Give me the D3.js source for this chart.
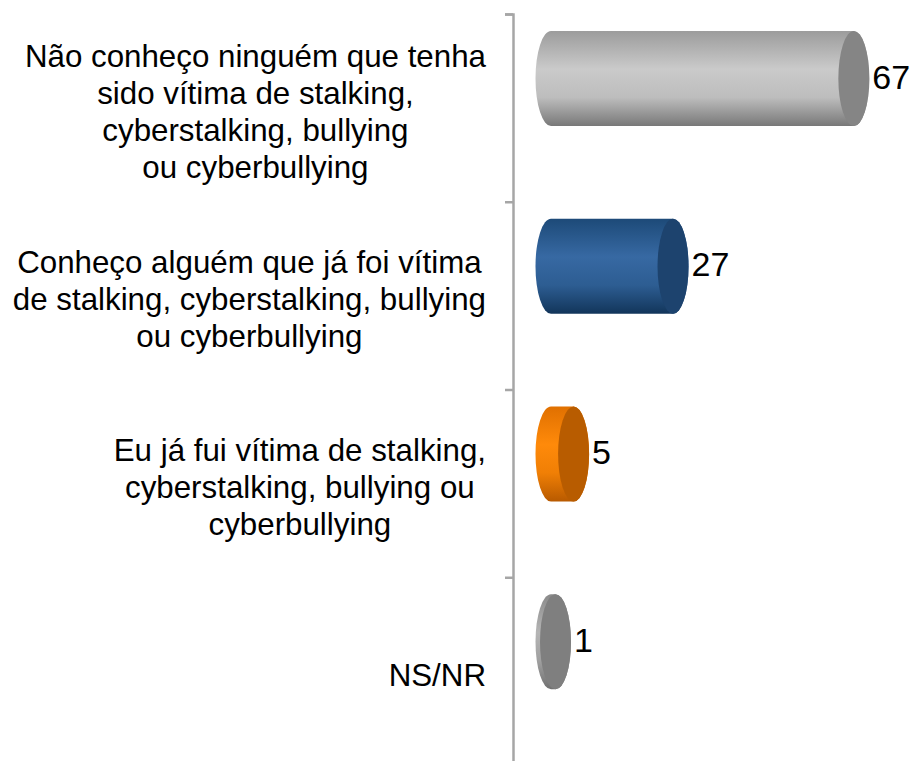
<!DOCTYPE html>
<html>
<head>
<meta charset="utf-8">
<script src="https://cdn.jsdelivr.net/npm/d3@7"></script>
<style>
  body { margin: 0; background: #fff; }
  svg { display: block; font-family: "Liberation Sans", Arial, sans-serif; }
</style>
</head>
<body>
<svg id="chart" width="913" height="761"></svg>
<script>
// data
const categories = [
  "Não conheço ninguém que tenha|sido vítima de stalking,|cyberstalking, bullying|ou cyberbullying",
  "Conheço alguém que já foi vítima|de stalking, cyberstalking, bullying|ou cyberbullying",
  "Eu já fui vítima de stalking,|cyberstalking, bullying ou|cyberbullying",
  "NS/NR"
]
const values = [67, 27, 5, 1]
const bodyColors = [
  ["#9c9c9c", "#cacaca", "#bdbdbd", "#787878"],
  ["#1d4a78", "#3769a3", "#2d5d92", "#12355a"],
  ["#e07000", "#ff8a0a", "#f07f05", "#b85a00"],
  ["#8a8a8a", "#b5b5b5", "#a0a0a0", "#707070"]
]
const capColors = ["#858585", "#1d436e", "#b85c00", "#7f7f7f"]

const svg = d3.select("#chart")

const x = d3.scaleLinear().domain([0, 100]).range([551, 551 + 452])
const y = d3.scaleBand().domain(categories).range([14, 765])
const axisScale = d3.scaleLinear().domain([0, categories.length]).range([14, 765])

const rx = 15.5, ry = 47.5

// gradients
const defs = svg.append("defs")
bodyColors.forEach(function(c, i) {
  const g = defs.append("linearGradient")
    .attr("id", "grad" + i)
    .attr("x1", 0).attr("y1", 0).attr("x2", 0).attr("y2", 1)
  g.append("stop").attr("offset", "0%").attr("stop-color", c[0])
  g.append("stop").attr("offset", "40%").attr("stop-color", c[1])
  g.append("stop").attr("offset", "70%").attr("stop-color", c[2])
  g.append("stop").attr("offset", "100%").attr("stop-color", c[3])
})

// axis
svg.append("g")
  .attr("class", "axis")
  .attr("transform", "translate(513,0)")
  .call(d3.axisLeft(axisScale).tickValues(d3.range(categories.length + 1)).tickSize(8).tickFormat(""))
  .call(function(g) {
    g.selectAll("path, line").attr("stroke", "#a6a6a6").attr("stroke-width", 2.5)
  })

// cylinders
const barCy = function(c) { return y(c) + 64.5 }

const bars = svg.append("g").selectAll("g")
  .data(categories)
  .join("g")

bars.append("path")
  .attr("d", function(c, i) {
    const x0 = x(0), x1 = x(values[i]), cy = barCy(c)
    return "M" + x0 + "," + (cy - ry) +
      "L" + x1 + "," + (cy - ry) +
      "A" + rx + "," + ry + " 0 0 1 " + x1 + "," + (cy + ry) +
      "L" + x0 + "," + (cy + ry) +
      "A" + rx + "," + ry + " 0 0 1 " + x0 + "," + (cy - ry) + "Z"
  })
  .attr("fill", function(c, i) { return "url(#grad" + i + ")" })

bars.append("ellipse")
  .attr("cx", function(c, i) { return x(values[i]) })
  .attr("cy", barCy)
  .attr("rx", rx)
  .attr("ry", ry)
  .attr("fill", function(c, i) { return capColors[i] })

// value labels
bars.append("text")
  .attr("x", function(c, i) { return x(values[i]) + rx + 3 })
  .attr("y", function(c) { return barCy(c) + 10 })
  .attr("font-size", 34)
  .attr("fill", "#000")
  .text(function(c, i) { return values[i] })

// category labels, centred lines in a block right-aligned to the axis
const lineH = 37
const labels = svg.append("g").selectAll("text")
  .data(categories)
  .join("text")
  .attr("font-size", 31.3)
  .attr("fill", "#000")
  .attr("text-anchor", "middle")

labels.each(function(c) {
  const lines = c.split("|")
  const t = d3.select(this)
  const mid = y(c) + y.bandwidth() / 2 + 4
  const firstBase = mid - (lines.length - 1) * lineH / 2 + 10.5
  lines.forEach(function(l, j) {
    t.append("tspan").attr("y", firstBase + j * lineH).text(l)
  })
  let maxW = 0
  t.selectAll("tspan").each(function() { maxW = Math.max(maxW, this.getComputedTextLength()) })
  t.selectAll("tspan").attr("x", 486 - maxW / 2)
})
</script>
</body>
</html>
